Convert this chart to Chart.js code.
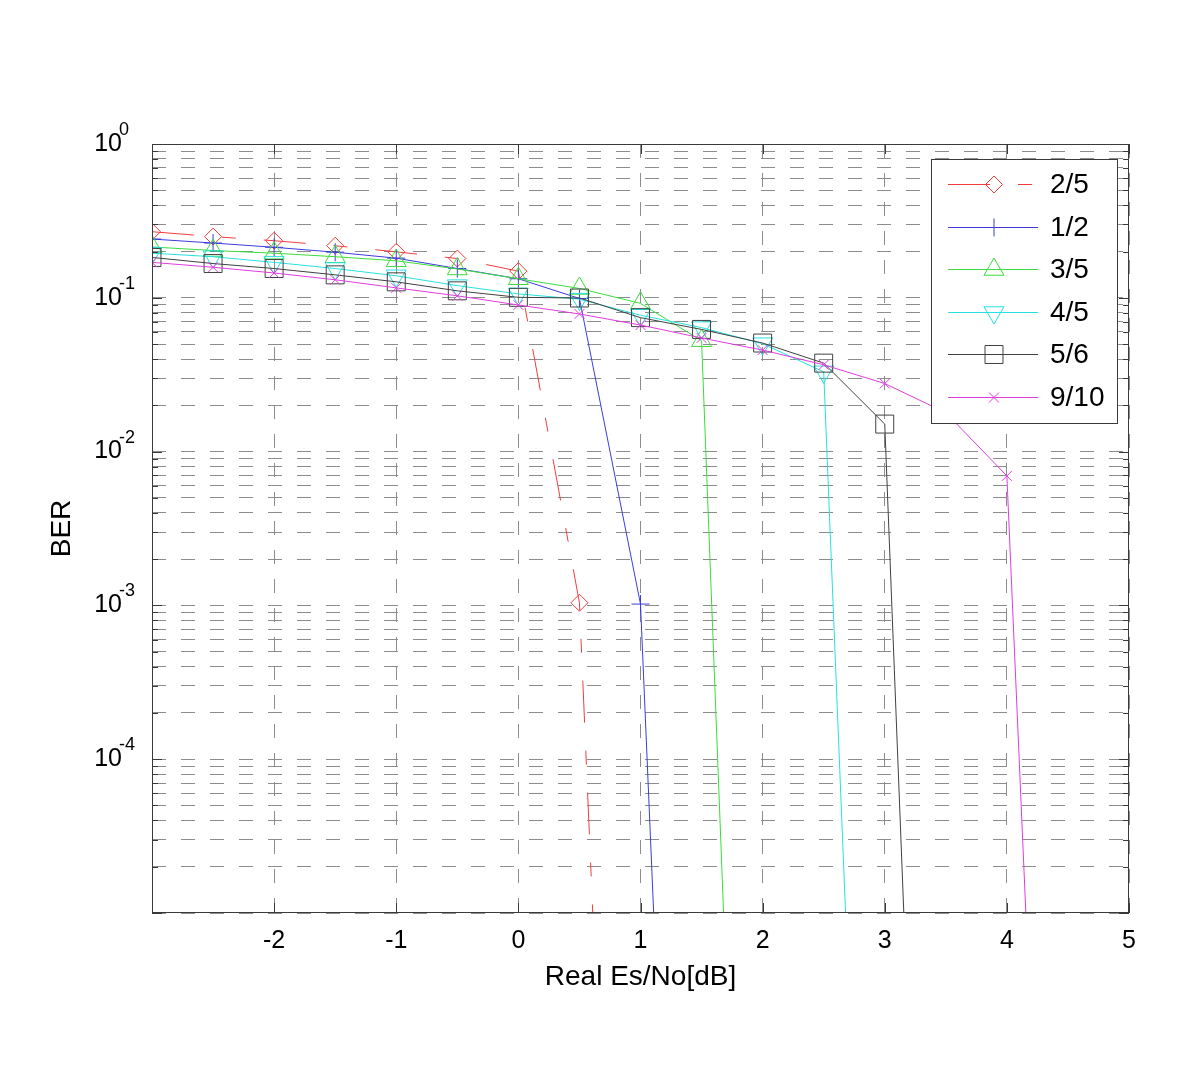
<!DOCTYPE html>
<html>
<head>
<meta charset="utf-8">
<title>BER vs Real Es/No</title>
<script src="https://cdn.jsdelivr.net/npm/chart.js@4.4.1/dist/chart.umd.min.js"></script>
<style>
    body { margin: 0; background: #fff; }
    #wrap { width: 1200px; height: 1078px; }
</style>
</head>
<body>
<div id="wrap"><canvas id="berChart" width="1200" height="1078"></canvas></div>
<script>
// Es/No points (dB), shared by all code rates
const esNo = [-3, -2.5, -2, -1.5, -1, -0.5, 0, 0.5, 1, 1.5, 2, 2.5, 3, 3.5, 4, 4.5];

// BER per code rate (last value of each lies far below the axis floor)
const ber25  = [0.269, 0.250, 0.235, 0.218, 0.199, 0.180, 0.149, 0.00104, 6e-13];
const ber12  = [0.241, 0.227, 0.213, 0.198, 0.181, 0.155, 0.133, 0.099, 0.00102, 5e-13];
const ber35  = [0.214, 0.203, 0.195, 0.185, 0.174, 0.154, 0.133, 0.115, 0.092, 0.0526, 2.5e-12];
const ber45  = [0.195, 0.185, 0.170, 0.155, 0.139, 0.120, 0.106, 0.098, 0.077, 0.064, 0.0503, 0.033, 5e-12];
const ber56  = [0.183, 0.167, 0.155, 0.141, 0.127, 0.111, 0.1007, 0.0997, 0.0743, 0.0623, 0.0508, 0.0376, 0.0151, 1e-12];
const ber910 = [0.170, 0.158, 0.145, 0.131, 0.116, 0.103, 0.0898, 0.0785, 0.0665, 0.0548, 0.0457, 0.0367, 0.0277, 0.0179, 0.00695, 5e-12];

const rateLabels = ['2/5', '1/2', '3/5', '4/5', '5/6', '9/10'];

// axis ticks
const xTicks = [-3, -2, -1, 0, 1, 2, 3, 4, 5];
const xTickLabels = ['', '-2', '-1', '0', '1', '2', '3', '4', '5'];
const yDecades = [-5, -4, -3, -2, -1];
const yLabelExps = [0, -1, -2, -3, -4];

const FONT = '"Liberation Sans", Arial, Helvetica, sans-serif';
Chart.defaults.font.family = FONT;

function toPoints(values) {
    return values.map((v, i) => ({ x: esNo[i], y: v }));
}

function makeSet(label, values, color, style, radius, rotation, dash, order) {
    return {
        label: label,
        data: toPoints(values),
        borderColor: color,
        borderWidth: 1,
        borderDash: dash,
        backgroundColor: 'rgba(0,0,0,0)',
        pointStyle: style,
        pointRadius: radius,
        pointRotation: rotation,
        pointBorderColor: color,
        pointBackgroundColor: 'rgba(0,0,0,0)',
        pointBorderWidth: 1,
        tension: 0,
        fill: false,
        order: order
    };
}

function isDecade(v) {
    const e = Math.log10(v);
    return Math.abs(e - Math.round(e)) < 1e-9;
}

// marker drawing for the legend samples (same shapes as chart.js point styles)
function drawMarker(ctx, style, r, rot, x, y) {
    const rad = rot * Math.PI / 180;
    ctx.beginPath();
    if (style === 'rectRot') {
        ctx.moveTo(x - r, y); ctx.lineTo(x, y - r); ctx.lineTo(x + r, y); ctx.lineTo(x, y + r);
        ctx.closePath();
    } else if (style === 'cross') {
        ctx.moveTo(x, y - r); ctx.lineTo(x, y + r);
        ctx.moveTo(x - r, y); ctx.lineTo(x + r, y);
    } else if (style === 'crossRot') {
        const o = r * Math.SQRT1_2;
        ctx.moveTo(x - o, y - o); ctx.lineTo(x + o, y + o);
        ctx.moveTo(x - o, y + o); ctx.lineTo(x + o, y - o);
    } else if (style === 'triangle') {
        let a = rad;
        ctx.moveTo(x + Math.sin(a) * r, y - Math.cos(a) * r);
        a += 2 * Math.PI / 3;
        ctx.lineTo(x + Math.sin(a) * r, y - Math.cos(a) * r);
        a += 2 * Math.PI / 3;
        ctx.lineTo(x + Math.sin(a) * r, y - Math.cos(a) * r);
        ctx.closePath();
    } else if (style === 'rect') {
        const h = r * Math.SQRT1_2;
        ctx.rect(x - h, y - h, 2 * h, 2 * h);
    }
    ctx.stroke();
}

// MATLAB-like frame: inward ticks, box, superscript exponents and the legend box
const matlabFrame = {
    id: 'matlabFrame',
    afterDraw(chart) {
        const ctx = chart.ctx;
        const a = chart.chartArea;
        const xs = chart.scales.x;
        const ys = chart.scales.y;

        ctx.save();
        ctx.strokeStyle = '#3a3a3a';
        ctx.lineWidth = 1;
        ctx.setLineDash([]);
        ctx.beginPath();
        xTicks.forEach(v => {
            const px = Math.round(xs.getPixelForValue(v)) + 0.5;
            ctx.moveTo(px, a.bottom); ctx.lineTo(px, a.bottom - 10);
            ctx.moveTo(px, a.top); ctx.lineTo(px, a.top + 10);
        });
        ys.ticks.forEach(t => {
            const py = Math.round(ys.getPixelForValue(t.value)) + 0.5;
            const len = isDecade(t.value) ? 10 : 6;
            ctx.moveTo(a.left, py); ctx.lineTo(a.left + len, py);
            ctx.moveTo(a.right, py); ctx.lineTo(a.right - len, py);
        });
        ctx.stroke();
        ctx.strokeRect(a.left + 0.5, a.top + 0.5, a.right - a.left - 1, a.bottom - a.top - 1);

        // exponents of the 10^n labels
        ctx.fillStyle = '#000';
        ctx.font = '18px ' + FONT;
        ctx.textAlign = 'left';
        ctx.textBaseline = 'middle';
        yLabelExps.forEach(e => {
            const py = ys.getPixelForValue(Math.pow(10, e));
            ctx.fillText(String(e), a.left - 33, py - 14);
        });

        // legend
        const lx = a.right - 198, ly = a.top + 15, lw = 186, lh = 264;
        ctx.fillStyle = '#fff';
        ctx.fillRect(lx, ly, lw, lh);
        ctx.strokeStyle = '#3a3a3a';
        ctx.strokeRect(lx + 0.5, ly + 0.5, lw, lh);
        ctx.font = '28px ' + FONT;
        chart.data.datasets.forEach((ds, i) => {
            const yy = Math.round(ly + 25 + i * 42.5) + 0.5;
            ctx.strokeStyle = ds.borderColor;
            ctx.setLineDash(ds.borderDash || []);
            ctx.beginPath();
            ctx.moveTo(lx + 17, yy); ctx.lineTo(lx + 107, yy);
            ctx.stroke();
            ctx.setLineDash([]);
            drawMarker(ctx, ds.pointStyle, ds.pointRadius, ds.pointRotation, lx + 63, yy);
            ctx.fillStyle = '#000';
            ctx.fillText(ds.label, lx + 119, yy + 1);
        });
        ctx.restore();
    }
};

const ctx = document.getElementById('berChart').getContext('2d');
const berChart = new Chart(ctx, {
    type: 'line',
    data: {
        datasets: [
            makeSet(rateLabels[0], ber25, '#f03c3c', 'rectRot', 8.5, 0, [42, 28, 14, 28], 6),
            makeSet(rateLabels[1], ber12, '#3c3cdc', 'cross', 9, 0, [], 5),
            makeSet(rateLabels[2], ber35, '#3cdc3c', 'triangle', 11.5, 0, [], 4),
            makeSet(rateLabels[3], ber45, '#28e0e0', 'triangle', 11.5, 180, [], 3),
            makeSet(rateLabels[4], ber56, '#404040', 'rect', 12.7, 0, [], 2),
            makeSet(rateLabels[5], ber910, '#e03ce0', 'crossRot', 7, 0, [], 1)
        ]
    },
    options: {
        responsive: false,
        animation: false,
        layout: { padding: { left: 0, top: 144, right: 71, bottom: 0 } },
        plugins: {
            legend: { display: false },
            tooltip: { enabled: false }
        },
        scales: {
            x: {
                type: 'linear',
                min: -3,
                max: 5,
                afterBuildTicks: s => { s.ticks = xTicks.map(v => ({ value: v })); },
                afterFit: s => { s.height = 165; },
                ticks: {
                    autoSkip: false,
                    maxRotation: 0,
                    padding: 13,
                    color: '#000',
                    font: { size: 25 },
                    callback: (v, i) => xTickLabels[i]
                },
                grid: { color: '#8c8c8c', lineWidth: 1, drawTicks: false },
                border: { display: false, dash: [14, 15] },
                title: {
                    display: true,
                    text: 'Real Es/No[dB]',
                    color: '#000',
                    font: { size: 28 },
                    padding: { top: 0, bottom: 84 }
                }
            },
            y: {
                type: 'logarithmic',
                min: 1e-5,
                max: 1,
                afterBuildTicks: s => {
                    const t = [];
                    yDecades.forEach(e => {
                        for (let m = 1; m <= 9; m++) t.push({ value: m * Math.pow(10, e) });
                    });
                    t.push({ value: 1 });
                    s.ticks = t;
                },
                afterFit: s => { s.width = 152; },
                ticks: {
                    autoSkip: false,
                    padding: 30,
                    color: '#000',
                    font: { size: 25 },
                    callback: v => (isDecade(v) && yLabelExps.includes(Math.round(Math.log10(v)))) ? '10' : ''
                },
                grid: { color: '#8c8c8c', lineWidth: 1, drawTicks: false },
                border: { display: false, dash: [14, 15] },
                title: {
                    display: true,
                    text: 'BER',
                    color: '#000',
                    font: { size: 28 },
                    padding: { top: 45, bottom: 0 }
                }
            }
        }
    },
    plugins: [matlabFrame]
});
</script>
</body>
</html>
